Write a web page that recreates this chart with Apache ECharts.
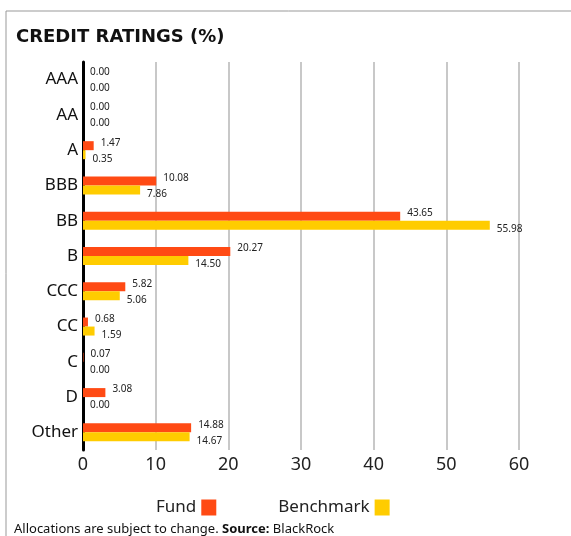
<!DOCTYPE html>
<html>
<head>
<meta charset="utf-8">
<script src="https://cdn.jsdelivr.net/npm/echarts@6/dist/echarts.min.js"></script>
<style>
  html, body { margin: 0; padding: 0; background: #fff; }
  #chart { width: 571px; height: 536px; }
</style>
</head>
<body>
<div id="chart"></div>
<script>
// ratings, top to bottom
const ratings = ['AAA', 'AA', 'A', 'BBB', 'BB', 'B', 'CCC', 'CC', 'C', 'D', 'Other'];
const fund = [0.00, 0.00, 1.47, 10.08, 43.65, 20.27, 5.82, 0.68, 0.07, 3.08, 14.88];
const benchmark = [0.00, 0.00, 0.35, 7.86, 55.98, 14.50, 5.06, 1.59, 0.00, 0.00, 14.67];
const xTicks = [0, 10, 20, 30, 40, 50, 60];

const FONT = '"Noto Sans", sans-serif';

const myChart = echarts.init(document.getElementById('chart'));

const barLabel = (dy) => ({
  show: true,
  position: 'right',
  offset: [2, dy],
  fontFamily: FONT,
  fontSize: 10,
  color: '#222',
  formatter: p => p.value.toFixed(2)
});

myChart.setOption({
  animation: false,
  color: ['#FF4A14', '#FFCC00'],
  title: {
    text: 'CREDIT RATINGS (%)',
    left: 11,
    top: 23,
    textStyle: { fontFamily: '"DejaVu Sans", sans-serif', fontSize: 18, fontWeight: 'bold', color: '#111' }
  },
  legend: {
    data: ['Fund', 'Benchmark'],
    left: 151,
    top: 494,
    align: 'right',
    icon: 'rect',
    itemWidth: 15,
    itemHeight: 16,
    itemGap: 62,
    textStyle: { fontFamily: FONT, fontSize: 17, color: '#222' }
  },
  grid: { left: 83, right: 52, top: 62, bottom: 86 },
  xAxis: {
    type: 'value',
    min: xTicks[0],
    max: xTicks[xTicks.length - 1],
    interval: 10,
    axisLine: { show: false },
    axisTick: { show: false },
    splitLine: { lineStyle: { color: '#c8c8c8', width: 2 } },
    axisLabel: { fontFamily: FONT, fontSize: 18, color: '#222', margin: 6 }
  },
  yAxis: {
    type: 'category',
    inverse: true,
    data: ratings,
    axisLine: { lineStyle: { color: '#000', width: 3 } },
    axisTick: { show: false },
    axisLabel: { fontFamily: FONT, fontSize: 17, color: '#111', margin: 5 }
  },
  series: [
    {
      name: 'Fund',
      type: 'bar',
      data: fund,
      barWidth: 9,
      barGap: '0%',
      label: barLabel(-3)
    },
    {
      name: 'Benchmark',
      type: 'bar',
      data: benchmark,
      barWidth: 9,
      barGap: '0%',
      label: barLabel(4)
    }
  ],
  graphic: [
    {
      type: 'polyline',
      shape: { points: [[6, 536], [6, 11], [571, 11]] },
      style: { stroke: '#999', lineWidth: 1, fill: null }
    },
    {
      type: 'text',
      left: 14,
      top: 523,
      style: {
        text: '{n|Allocations are subject to change. }{b|Source:}{n| BlackRock}',
        rich: {
          n: { fontFamily: FONT, fontSize: 13, fill: '#111' },
          b: { fontFamily: FONT, fontSize: 13, fontWeight: 'bold', fill: '#111' }
        }
      }
    }
  ]
});

window.addEventListener('resize', () => { myChart.resize(); });
</script>
</body>
</html>
